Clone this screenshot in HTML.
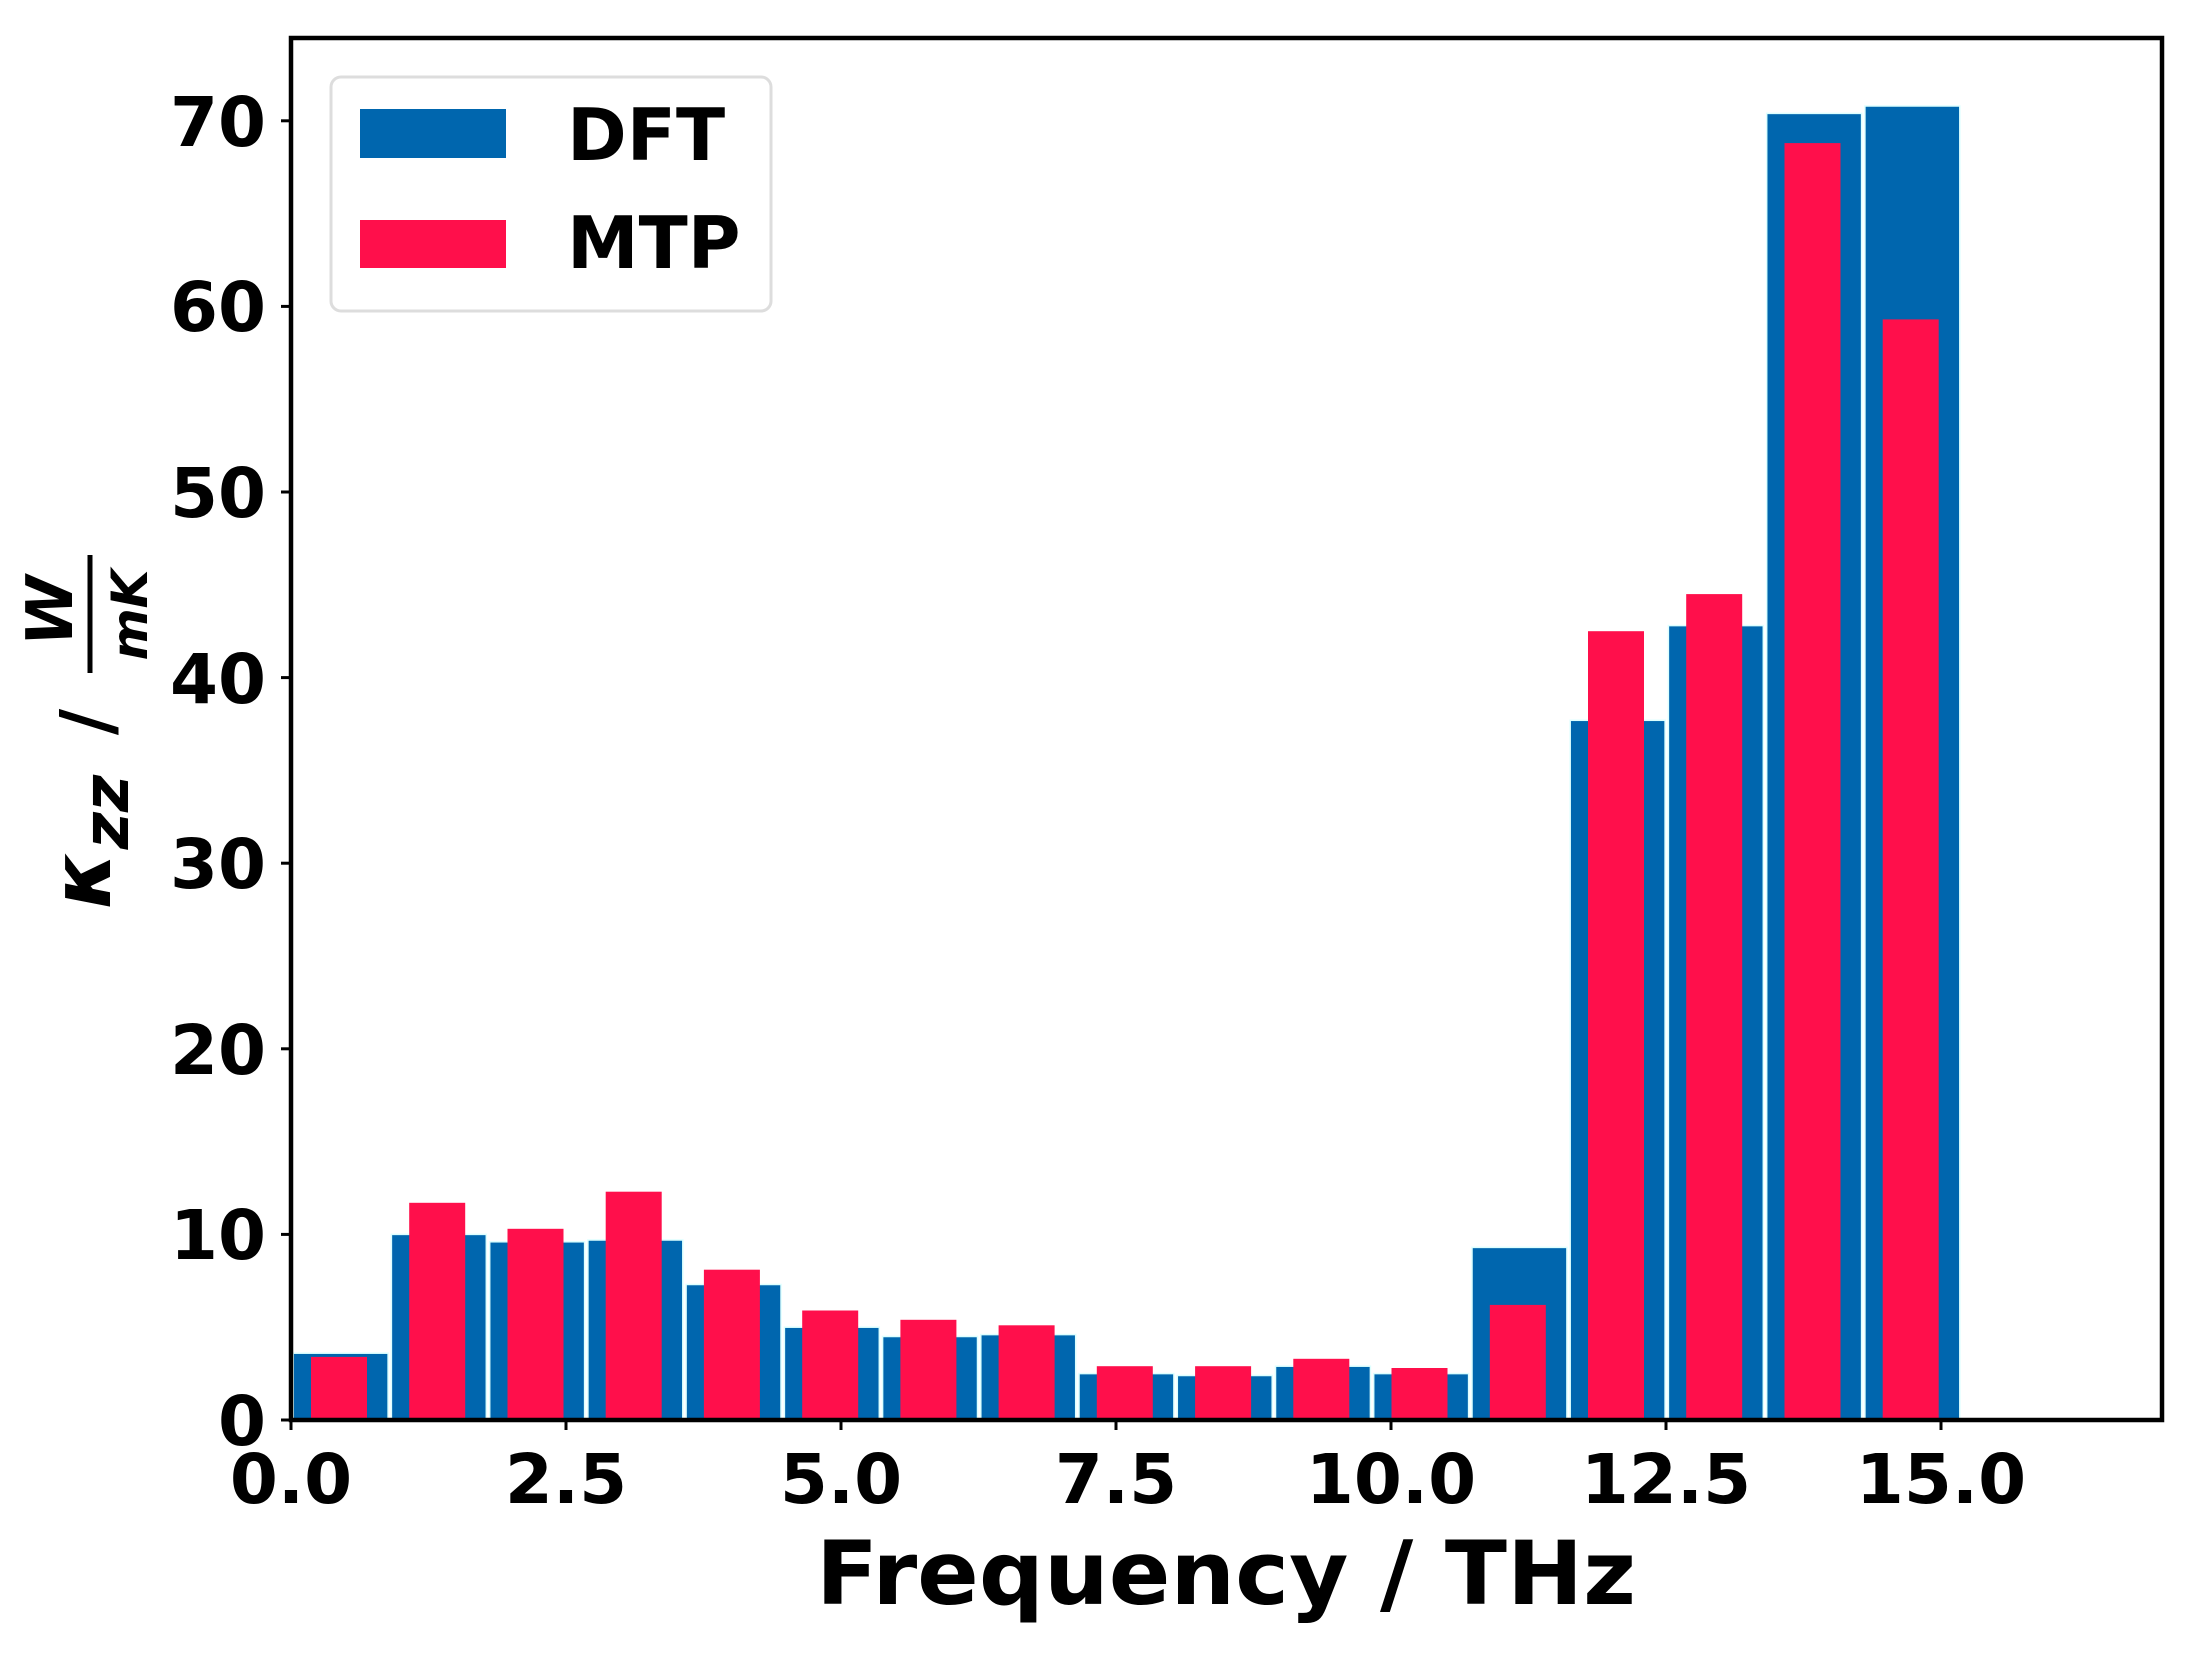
<!DOCTYPE html>
<html><head><meta charset="utf-8"><style>html,body{margin:0;padding:0;background:#fff}svg{display:block}</style></head>
<body>
<svg width="2197" height="1655" viewBox="0 0 2197 1655" xmlns="http://www.w3.org/2000/svg" font-family="'DejaVu Sans','Liberation Sans',sans-serif" font-weight="bold">
<rect width="2197" height="1655" fill="#fff"/>
<g transform="translate(0,1420) scale(1,-1)">
<g fill="#0066AE" stroke="#dff" stroke-width="1.5">
<rect x="293.2" y="0" width="94.9" height="66.8"/>
<rect x="391.4" y="0" width="94.9" height="185.6"/>
<rect x="489.7" y="0" width="94.9" height="178.2"/>
<rect x="587.9" y="0" width="94.9" height="180.0"/>
<rect x="686.1" y="0" width="94.9" height="135.5"/>
<rect x="784.4" y="0" width="94.9" height="92.8"/>
<rect x="882.6" y="0" width="94.9" height="83.5"/>
<rect x="980.8" y="0" width="94.9" height="85.4"/>
<rect x="1079.0" y="0" width="94.9" height="46.4"/>
<rect x="1177.3" y="0" width="94.9" height="44.5"/>
<rect x="1275.5" y="0" width="94.9" height="53.8"/>
<rect x="1373.7" y="0" width="94.9" height="46.4"/>
<rect x="1472.0" y="0" width="94.9" height="172.6"/>
<rect x="1570.2" y="0" width="94.9" height="699.7"/>
<rect x="1668.4" y="0" width="94.9" height="794.4"/>
<rect x="1766.7" y="0" width="94.9" height="1306.6"/>
<rect x="1864.9" y="0" width="94.9" height="1314.0"/>
</g>
<g fill="#FF0F4B">
<rect x="311.0" y="0" width="56" height="63.1"/>
<rect x="409.2" y="0" width="56" height="217.2"/>
<rect x="507.5" y="0" width="56" height="191.2"/>
<rect x="605.7" y="0" width="56" height="228.3"/>
<rect x="703.9" y="0" width="56" height="150.3"/>
<rect x="802.2" y="0" width="56" height="109.5"/>
<rect x="900.4" y="0" width="56" height="100.2"/>
<rect x="998.6" y="0" width="56" height="94.7"/>
<rect x="1096.8" y="0" width="56" height="53.8"/>
<rect x="1195.1" y="0" width="56" height="53.8"/>
<rect x="1293.3" y="0" width="56" height="61.2"/>
<rect x="1391.5" y="0" width="56" height="52.0"/>
<rect x="1489.8" y="0" width="56" height="115.1"/>
<rect x="1588.0" y="0" width="56" height="788.8"/>
<rect x="1686.2" y="0" width="56" height="825.9"/>
<rect x="1784.5" y="0" width="56" height="1276.9"/>
<rect x="1882.7" y="0" width="56" height="1100.6"/>
</g>
</g>
<rect x="291" y="38" width="1871" height="1382" fill="none" stroke="#000" stroke-width="4.5"/>
<g stroke="#000" stroke-width="3">
<line x1="291" y1="1420" x2="291" y2="1430"/><line x1="566" y1="1420" x2="566" y2="1430"/><line x1="841" y1="1420" x2="841" y2="1430"/><line x1="1116" y1="1420" x2="1116" y2="1430"/><line x1="1391" y1="1420" x2="1391" y2="1430"/><line x1="1666" y1="1420" x2="1666" y2="1430"/><line x1="1941" y1="1420" x2="1941" y2="1430"/>
<line x1="281" y1="1420" x2="291" y2="1420"/><line x1="281" y1="1234.4" x2="291" y2="1234.4"/><line x1="281" y1="1048.8" x2="291" y2="1048.8"/><line x1="281" y1="863.2" x2="291" y2="863.2"/><line x1="281" y1="677.6" x2="291" y2="677.6"/><line x1="281" y1="492" x2="291" y2="492"/><line x1="281" y1="306.4" x2="291" y2="306.4"/><line x1="281" y1="120.8" x2="291" y2="120.8"/>
</g>
<g font-size="69" text-anchor="middle">
<text x="291" y="1503">0.0</text><text x="566" y="1503">2.5</text><text x="841" y="1503">5.0</text><text x="1116" y="1503">7.5</text><text x="1391" y="1503">10.0</text><text x="1666" y="1503">12.5</text><text x="1941" y="1503">15.0</text>
</g>
<g font-size="69" text-anchor="end">
<text x="266" y="1445">0</text><text x="266" y="1259">10</text><text x="266" y="1074">20</text><text x="266" y="888">30</text><text x="266" y="703">40</text><text x="266" y="517">50</text><text x="266" y="331">60</text><text x="266" y="146">70</text>
</g>
<text x="1226" y="1604" font-size="88" text-anchor="middle" textLength="820" lengthAdjust="spacingAndGlyphs">Frequency / THz</text>
<g text-anchor="middle">
<text transform="translate(110,880) rotate(-90)" font-size="82" font-style="italic">κ</text>
<text transform="translate(128,812) rotate(-90)" font-size="64" font-style="italic">zz</text>
<text transform="translate(112,722) rotate(-90)" font-size="72">/</text>
<text transform="translate(72,611) rotate(-90)" font-size="64" font-style="italic">W</text>
<text transform="translate(147,615) rotate(-90)" font-size="50" font-style="italic">mK</text>
</g>
<line x1="90" y1="555" x2="90" y2="673" stroke="#000" stroke-width="5"/>
<rect x="331" y="77" width="440" height="234" rx="10" fill="#fff" fill-opacity="0.85" stroke="#ddd" stroke-width="3"/>
<rect x="360" y="109" width="146" height="49" fill="#0066AE"/>
<rect x="360" y="220" width="146" height="48" fill="#FF0F4B"/>
<text x="567" y="160" font-size="72">DFT</text>
<text x="567" y="268" font-size="72">MTP</text>
</svg>
</body></html>
